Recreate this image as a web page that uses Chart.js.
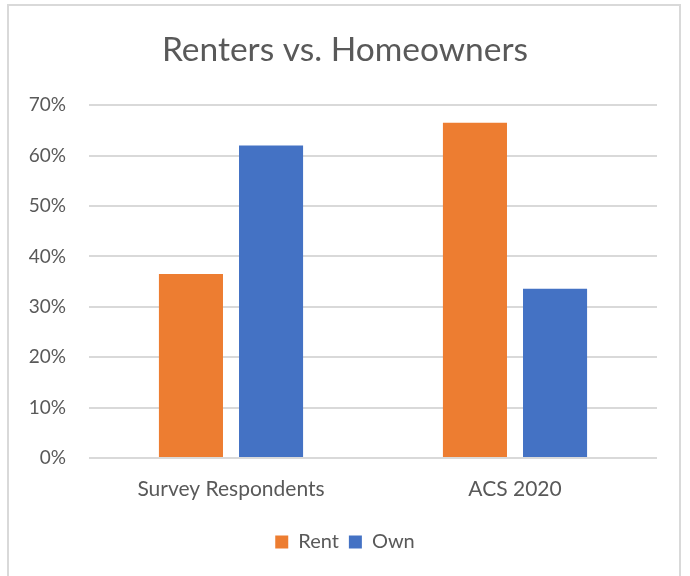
<!DOCTYPE html>
<html>
<head>
<meta charset="utf-8">
<script src="https://cdn.jsdelivr.net/npm/chart.js@4.4.1/dist/chart.umd.min.js"></script>
<style>
  html, body { margin: 0; padding: 0; background: #ffffff; }
  #wrap { position: relative; width: 690px; height: 576px; overflow: hidden; }
  #frame { position: absolute; left: 7px; top: 4px; width: 674px; height: 600px;
           border: 2px solid #d9d9d9; box-sizing: border-box; pointer-events: none; }
  canvas { position: absolute; left: 0; top: 0; }
</style>
</head>
<body>
<div id="wrap">
  <canvas id="c" width="690" height="576"></canvas>
  <div id="frame"></div>
</div>
<script>
const categories = ["Survey Respondents", "ACS 2020"];
const rentValues = [36.5, 66.5];
const ownValues = [62.0, 33.6];
const seriesNames = ["Rent", "Own"];
const chartTitle = "Renters vs. Homeowners";

const FONT = "Lato, 'Open Sans', sans-serif";
const TEXT = "#595959";

new Chart(document.getElementById("c"), {
  type: "bar",
  data: {
    labels: categories,
    datasets: [
      { label: seriesNames[0], data: rentValues, backgroundColor: "#ED7D31" },
      { label: seriesNames[1], data: ownValues, backgroundColor: "#4472C4" }
    ]
  },
  options: {
    responsive: false,
    animation: false,
    layout: { padding: { left: 0, right: 0, top: 0, bottom: 14 } },
    datasets: { bar: { categoryPercentage: 0.564, barPercentage: 0.8 } },
    scales: {
      y: {
        min: 0, max: 70,
        ticks: { stepSize: 10, color: TEXT, padding: 23, font: { family: FONT, size: 19 },
                 callback: v => v + "%" },
        grid: { color: "#d9d9d9", lineWidth: 2, drawTicks: false },
        border: { display: false },
        afterFit: s => { s.width = 89; }
      },
      yRight: {
        position: "right",
        min: 0, max: 70,
        ticks: { display: false },
        grid: { display: false, drawTicks: false },
        border: { display: false },
        afterFit: s => { s.width = 33; }
      },
      x: {
        ticks: { color: TEXT, padding: 19, font: { family: FONT, size: 21 } },
        grid: { display: false, drawTicks: false },
        border: { display: false },
        afterFit: s => { s.height = 64; }
      }
    },
    plugins: {
      title: { display: true, text: chartTitle, color: TEXT,
               font: { family: FONT, size: 33.5, weight: "normal" },
               padding: { top: 30, bottom: 35 } },
      legend: { position: "bottom",
                labels: { color: TEXT, font: { family: FONT, size: 20 },
                          boxWidth: 13, boxHeight: 13, padding: 10 } },
      tooltip: { enabled: false }
    }
  },
  plugins: [{
    id: "baseline",
    afterDraw(chart) {
      const { ctx, chartArea } = chart;
      const y = chart.scales.y.getPixelForValue(0);
      ctx.save();
      ctx.strokeStyle = "#d9d9d9"; ctx.lineWidth = 2;
      ctx.beginPath(); ctx.moveTo(chartArea.left, y); ctx.lineTo(chartArea.right, y); ctx.stroke();
      ctx.restore();
    }
  }]
});
</script>
</body>
</html>
